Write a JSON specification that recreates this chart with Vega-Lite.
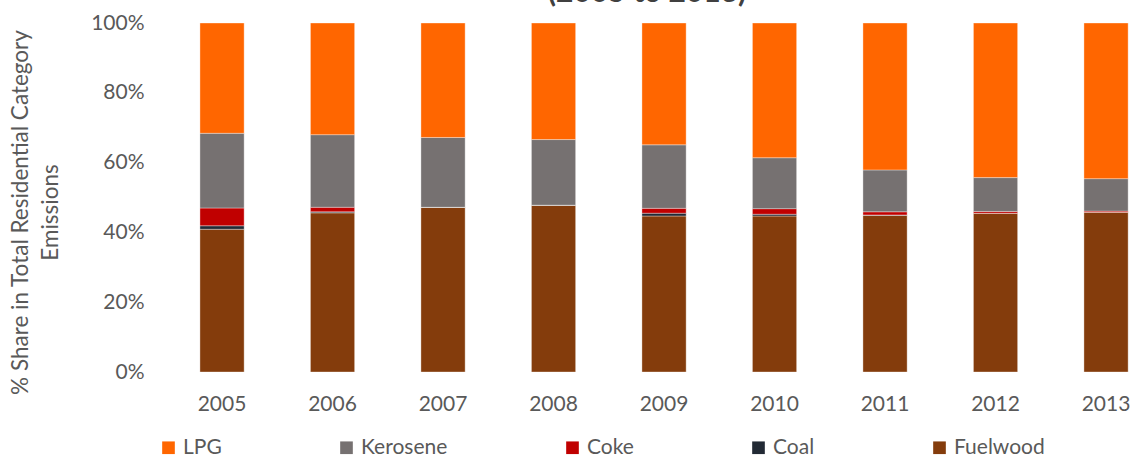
{
  "$schema": "https://vega.github.io/schema/vega-lite/v6.json",
  "autosize": {"type": "none"},
  "padding": {"left": 167, "top": 23, "right": 0, "bottom": 86},
  "width": 964,
  "height": 349,
  "background": "white",
  "config": {
    "font": "Lato",
    "view": {"stroke": null}
  },
  "layer": [
    {
      "data": {
        "values": [
          {"Year": "2005", "Fuel": "Fuelwood", "Share": 40.9},
          {"Year": "2005", "Fuel": "Coal", "Share": 1.0},
          {"Year": "2005", "Fuel": "Coke", "Share": 5.1},
          {"Year": "2005", "Fuel": "Kerosene", "Share": 21.4},
          {"Year": "2005", "Fuel": "LPG", "Share": 31.6},
          {"Year": "2006", "Fuel": "Fuelwood", "Share": 45.6},
          {"Year": "2006", "Fuel": "Coal", "Share": 0.3},
          {"Year": "2006", "Fuel": "Coke", "Share": 1.3},
          {"Year": "2006", "Fuel": "Kerosene", "Share": 20.8},
          {"Year": "2006", "Fuel": "LPG", "Share": 32.0},
          {"Year": "2007", "Fuel": "Fuelwood", "Share": 47.2},
          {"Year": "2007", "Fuel": "Coal", "Share": 0.0},
          {"Year": "2007", "Fuel": "Coke", "Share": 0.0},
          {"Year": "2007", "Fuel": "Kerosene", "Share": 20.0},
          {"Year": "2007", "Fuel": "LPG", "Share": 32.8},
          {"Year": "2008", "Fuel": "Fuelwood", "Share": 47.8},
          {"Year": "2008", "Fuel": "Coal", "Share": 0.0},
          {"Year": "2008", "Fuel": "Coke", "Share": 0.0},
          {"Year": "2008", "Fuel": "Kerosene", "Share": 18.8},
          {"Year": "2008", "Fuel": "LPG", "Share": 33.4},
          {"Year": "2009", "Fuel": "Fuelwood", "Share": 44.7},
          {"Year": "2009", "Fuel": "Coal", "Share": 0.8},
          {"Year": "2009", "Fuel": "Coke", "Share": 1.4},
          {"Year": "2009", "Fuel": "Kerosene", "Share": 18.2},
          {"Year": "2009", "Fuel": "LPG", "Share": 34.9},
          {"Year": "2010", "Fuel": "Fuelwood", "Share": 44.7},
          {"Year": "2010", "Fuel": "Coal", "Share": 0.5},
          {"Year": "2010", "Fuel": "Coke", "Share": 1.6},
          {"Year": "2010", "Fuel": "Kerosene", "Share": 14.6},
          {"Year": "2010", "Fuel": "LPG", "Share": 38.6},
          {"Year": "2011", "Fuel": "Fuelwood", "Share": 44.9},
          {"Year": "2011", "Fuel": "Coal", "Share": 0.1},
          {"Year": "2011", "Fuel": "Coke", "Share": 0.9},
          {"Year": "2011", "Fuel": "Kerosene", "Share": 12.0},
          {"Year": "2011", "Fuel": "LPG", "Share": 42.1},
          {"Year": "2012", "Fuel": "Fuelwood", "Share": 45.5},
          {"Year": "2012", "Fuel": "Coal", "Share": 0.0},
          {"Year": "2012", "Fuel": "Coke", "Share": 0.5},
          {"Year": "2012", "Fuel": "Kerosene", "Share": 9.7},
          {"Year": "2012", "Fuel": "LPG", "Share": 44.3},
          {"Year": "2013", "Fuel": "Fuelwood", "Share": 45.8},
          {"Year": "2013", "Fuel": "Coal", "Share": 0.0},
          {"Year": "2013", "Fuel": "Coke", "Share": 0.3},
          {"Year": "2013", "Fuel": "Kerosene", "Share": 9.3},
          {"Year": "2013", "Fuel": "LPG", "Share": 44.6}
        ]
      },
      "transform": [
        {"calculate": "indexof(['Fuelwood', 'Coal', 'Coke', 'Kerosene', 'LPG'], datum.Fuel)", "as": "StackOrder"}
      ],
      "mark": {"type": "bar", "stroke": "#ffffff", "strokeOpacity": 0.35, "strokeWidth": 1},
      "encoding": {
        "x": {
          "field": "Year",
          "type": "nominal",
          "scale": {"paddingInner": 0.6, "paddingOuter": 0.162, "align": 0.92},
          "axis": {
            "title": null,
            "labelAngle": 0,
            "domain": false,
            "ticks": false,
            "labelPadding": 21,
            "labelFontSize": 21,
            "labelColor": "#595959"
          }
        },
        "y": {
          "field": "Share",
          "type": "quantitative",
          "stack": "normalize",
          "scale": {"domain": [0, 1]},
          "axis": {
            "title": ["% Share in Total Residential Category", "Emissions"],
            "titleFontSize": 22.5,
            "titleFontWeight": "normal",
            "titleColor": "#595959",
            "titleLineHeight": 30,
            "titleX": -158,
            "titleY": 189,
            "titleBaseline": "top",
            "titleAlign": "center",
            "titleAngle": -90,
            "format": "%",
            "values": [0, 0.1, 0.2, 0.3, 0.4, 0.5, 0.6, 0.7, 0.8, 0.9, 1],
            "labelOverlap": false,
            "grid": false,
            "domain": false,
            "ticks": false,
            "labelPadding": 23,
            "labelFontSize": 21,
            "labelColor": "#595959"
          }
        },
        "order": {"field": "StackOrder", "type": "quantitative", "sort": "ascending"},
        "color": {
          "field": "Fuel",
          "type": "nominal",
          "scale": {
            "domain": ["LPG", "Kerosene", "Coke", "Coal", "Fuelwood"],
            "range": ["#FF6600", "#767171", "#C00000", "#222A35", "#843C0C"]
          },
          "legend": {
            "title": null,
            "orient": "none",
            "direction": "horizontal",
            "legendX": -9,
            "legendY": 414,
            "symbolType": "square",
            "symbolSize": 160,
            "symbolStrokeWidth": 0,
            "symbolOpacity": 1,
            "labelFontSize": 21,
            "labelColor": "#595959",
            "labelOffset": 4,
            "columnPadding": 114,
            "labelLimit": 300
          }
        }
      }
    },
    {
      "data": {"values": [{"Title": "(2005 to 2013)"}]},
      "mark": {
        "type": "text",
        "fontSize": 30,
        "fontWeight": "bold",
        "color": "#404040",
        "baseline": "alphabetic",
        "align": "center",
        "dy": -21,
        "dx": -17
      },
      "encoding": {
        "x": {"datum": "2009", "type": "nominal"},
        "y": {"datum": 1, "type": "quantitative"},
        "text": {"field": "Title", "type": "nominal"}
      }
    }
  ]
}
